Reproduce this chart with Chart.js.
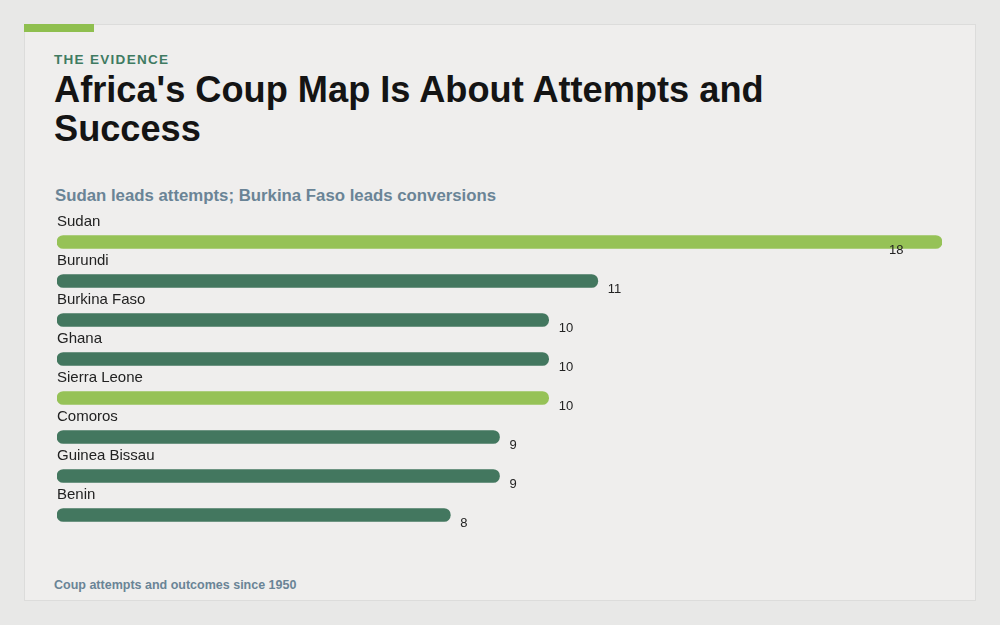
<html>
  <head>
    <meta charset="utf-8">
    <style>
      body { margin: 0; background: #e8e8e7; font-family: "Liberation Sans", Arial, sans-serif; }
      .card { position: absolute; left: 24px; top: 24px; width: 950px; height: 575px; background: #efeeed; border: 1px solid #dcdcdb; }
      .accent { position: absolute; left: 24px; top: 24px; width: 70px; height: 8px; background: #8fbf4f; }
      .kicker { position: absolute; left: 54px; top: 52px; font-size: 13.5px; font-weight: bold; letter-spacing: 1.3px; color: #3f7b62; }
      h1 { position: absolute; left: 54px; top: 70px; margin: 0; width: 800px; font-size: 36.2px; line-height: 39px; font-weight: bold; color: #141414; }
      .sub { position: absolute; left: 55px; top: 186px; font-size: 16.8px; font-weight: bold; color: #6a8496; }
      .foot { position: absolute; left: 54px; top: 578px; font-size: 12.5px; font-weight: bold; color: #6a8496; }
      .chart-container { position: absolute; left: 40px; top: 200px; width: 940px; height: 350px; }
    </style>
  </head>
  <body>
    <div class="card"></div>
    <div class="accent"></div>
    <div class="kicker">THE EVIDENCE</div>
    <h1>Africa's Coup Map Is About Attempts and Success</h1>
    <div class="sub">Sudan leads attempts; Burkina Faso leads conversions</div>
    <div class="chart-container">
      <canvas id="coupChart"></canvas>
    </div>
    <div class="foot">Coup attempts and outcomes since 1950</div>

    <script src="https://cdn.jsdelivr.net/npm/chart.js@4.4.1/dist/chart.umd.min.js"></script>
    <script>
const countries = ["Sudan", "Burundi", "Burkina Faso", "Ghana", "Sierra Leone", "Comoros", "Guinea Bissau", "Benin"];
const attempts = [18, 11, 10, 10, 10, 9, 9, 8];
const highlighted = [true, false, false, false, true, false, false, false];

const lightGreen = "#96c257";
const darkGreen = "#43775f";

// draws the country name above each bar and the count after it
const barLabels = {
  id: "barLabels",
  afterDatasetsDraw(chart) {
    const ctx = chart.ctx;
    const area = chart.chartArea;
    const meta = chart.getDatasetMeta(0);
    ctx.save();
    meta.data.forEach((bar, i) => {
      ctx.fillStyle = "#222";
      ctx.textAlign = "left";
      ctx.textBaseline = "alphabetic";
      ctx.font = "15px 'Liberation Sans', Arial, sans-serif";
      ctx.fillText(countries[i], area.left, bar.y - 16);
      ctx.font = "13px 'Liberation Sans', Arial, sans-serif";
      ctx.textBaseline = "middle";
      const x = Math.min(bar.x + 10, area.right - 53);
      ctx.fillText(String(attempts[i]), x, bar.y + 8);
    });
    ctx.restore();
  }
};

const ctx = document.getElementById("coupChart").getContext("2d");
new Chart(ctx, {
  type: "bar",
  data: {
    labels: countries,
    datasets: [{
      data: attempts,
      backgroundColor: highlighted.map(h => h ? lightGreen : darkGreen),
      barThickness: 13,
      borderRadius: 7,
      borderSkipped: false
    }]
  },
  options: {
    indexAxis: "y",
    responsive: true,
    maintainAspectRatio: false,
    animation: false,
    layout: { padding: { left: 17, right: 38, top: 22.5, bottom: 15.5 } },
    scales: {
      x: { display: false, min: 0, max: 18 },
      y: { display: false }
    },
    plugins: {
      legend: { display: false },
      tooltip: { enabled: false }
    }
  },
  plugins: [barLabels]
});
    </script>
  </body>
</html>
